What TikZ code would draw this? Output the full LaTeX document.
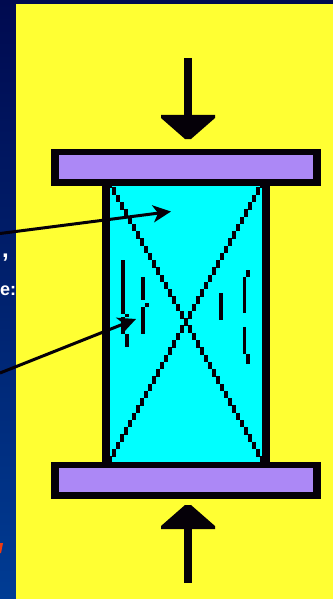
\documentclass[tikz,border=0pt]{standalone}
\usepackage{fontspec}
\setmainfont{Liberation Sans}
\usetikzlibrary{arrows.meta}
\definecolor{ink}{HTML}{050008}
\definecolor{pagey}{HTML}{FFFF33}
\definecolor{rock}{HTML}{00FFFF}
\definecolor{platen}{HTML}{AC88F6}
\definecolor{navytop}{HTML}{000A50}
\definecolor{navymid}{HTML}{00226F}
\definecolor{navylow}{HTML}{003C94}
\definecolor{scrapred}{HTML}{F03A10}
\tikzset{
  x=1pt,y=-1pt,
  plate/.style={fill=ink},
  pointer/.style={draw=ink,line width=3pt,-{Stealth[length=18pt,width=17pt,inset=5pt]}},
  crack/.style={fill=ink,draw=none},
  scrap/.style={text=white,font=\bfseries\fontsize{18}{18}\selectfont,inner sep=0pt,anchor=base west},
}
\begin{document}
\begin{tikzpicture}
\useasboundingbox (0,0) rectangle (333,599);
% background
\fill[top color=navytop,bottom color=navymid] (0,0) rectangle (16,300);
\fill[top color=navymid,bottom color=navylow] (0,300) rectangle (16,599);
\fill[navytop] (0,0) rectangle (333,4);
\fill[pagey] (16,4) rectangle (333,599);
% slide text fragments
\node[scrap,font=\bfseries\fontsize{24}{24}\selectfont] (comma) at (2,257) {,};
\node[scrap] (er) at (0,295) {e:};
\fill[scrapred] (0,543) -- (3,543) -- (1,553) -- (0,553) -- cycle;
% specimen
\fill[ink] (102,180) rectangle (270,468);
\fill[rock] (110,186) rectangle (262,462);
\begin{scope}
\clip (110,186) rectangle (262,462);
\foreach \i in {0,...,38}{
  \pgfmathsetmacro{\ya}{180.2+7.263*\i}
  \pgfmathsetmacro{\yb}{\ya+7.6}
  \fill[ink] ({108+4*\i},\ya) rectangle ({112+4*\i},\yb);
  \fill[ink] ({264-4*\i},\ya) rectangle ({260-4*\i},\yb);
}
\end{scope}
% cracks
\fill[crack] (121,260) rectangle (125,314);
\fill[crack] (125,314) rectangle (129,317);
\fill[crack] (121,317) rectangle (125,334);
\fill[crack] (125,334) rectangle (129,347);
\fill[crack] (141,277) rectangle (145,300);
\fill[crack] (145,303) rectangle (149,307);
\fill[crack] (141,307) rectangle (145,334);
\fill[crack] (219,293) rectangle (223,320);
\fill[crack] (243,277) rectangle (246,313);
\fill[crack] (246,270) rectangle (250,277);
\fill[crack] (243,327) rectangle (246,354);
\fill[crack] (246,354) rectangle (250,364);
% plates
\fill[plate] (51,149) rectangle (321,186);
\fill[platen] (59,155) rectangle (313,179);
\fill[plate] (51,462) rectangle (321,499);
\fill[platen] (59,468) rectangle (313,492);
% load arrows
\fill[ink] (184,58) rectangle (192,116);
\fill[ink] (161,115) -- (215,115) -- (215,118) -- (191,139) -- (185,139) -- (161,118) -- cycle;
\fill[ink] (184,528) rectangle (192,583);
\fill[ink] (161,529) -- (215,529) -- (215,526) -- (191,505) -- (185,505) -- (161,526) -- cycle;
% pointers
\coordinate (p1) at (0,233.5);
\coordinate (q1) at (171,211.5);
\coordinate (p2) at (0,373);
\coordinate (q2) at (136,319);
\draw[pointer] (p1) -- (q1);
\draw[pointer] (p2) -- (q2);
\end{tikzpicture}
\end{document}
